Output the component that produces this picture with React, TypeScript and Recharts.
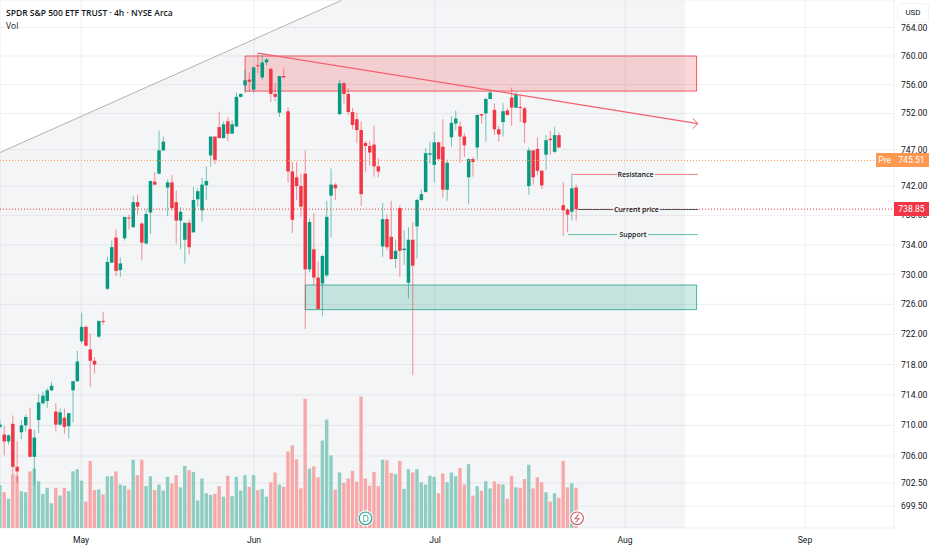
import {
  Area,
  Bar,
  CartesianGrid,
  ComposedChart,
  ReferenceArea,
  ReferenceDot,
  ReferenceLine,
  XAxis,
  YAxis,
} from "recharts";

const UP = "#089981";
const DOWN = "#f23645";
const FONT = "'Open Sans', sans-serif";
const AXIS_FONT = "Roboto, sans-serif";

const opens = [
  709.8, 708.8, 707.9, 710.2, 704.6, 709.1, 710.0, 709.5, 705.9, 710.7,
  712.9, 713.2, 714.6, 711.8, 710.1, 711.0, 709.9, 714.6, 715.8, 721.1,
  723.0, 720.0, 718.5, 721.7, 723.8, 728.1, 731.6, 735.0, 730.6, 734.9,
  737.7, 736.4, 739.8, 736.9, 734.2, 738.4, 742.6, 743.7, 746.9, 741.8,
  742.5, 739.8, 737.3, 734.7, 737.0, 735.7, 740.2, 738.7, 742.1, 746.2,
  748.8, 750.1, 748.6, 750.9, 749.2, 750.2, 754.3, 755.9, 756.7, 755.3,
  758.7, 757.0, 759.1, 758.2, 754.7, 752.1, 757.2, 752.3, 744.0, 743.2,
  742.0, 743.7, 730.7, 733.4, 729.6, 728.8, 729.9, 740.7, 742.2, 751.9,
  756.2, 754.7, 752.2, 751.2, 749.7, 747.9, 747.5, 747.7, 744.7, 733.8,
  737.5, 735.1, 732.1, 739.0, 733.3, 728.9, 734.7, 736.5, 740.1, 741.2,
  746.3, 744.9, 748.0, 747.4, 741.5, 748.7, 750.6, 750.2, 748.8, 743.2,
  745.7, 747.3, 751.9, 752.0, 754.0, 752.5, 749.8, 750.8, 752.4, 754.2,
  752.8, 752.9, 752.7, 742.0, 746.9, 747.1, 744.1, 746.3, 748.5, 746.7,
  749.0, 739.4, 738.8, 738.5, 741.8,
];

const closes = [
  710.1, 707.9, 708.7, 704.6, 704.0, 710.0, 711.1, 705.9, 708.4, 713.0,
  713.9, 714.6, 715.2, 710.1, 711.7, 709.8, 711.6, 715.8, 718.4, 723.0,
  720.5, 718.5, 718.0, 723.8, 723.7, 731.7, 733.7, 730.5, 731.5, 737.8,
  737.6, 739.8, 739.2, 734.3, 738.2, 742.7, 742.2, 746.9, 748.1, 742.5,
  739.0, 737.3, 738.5, 737.0, 733.7, 740.1, 741.3, 742.2, 742.7, 748.8,
  745.6, 748.6, 750.5, 749.2, 750.5, 754.3, 754.7, 756.6, 756.4, 758.4,
  758.6, 759.1, 759.5, 754.7, 754.3, 757.2, 757.0, 744.0, 737.4, 742.0,
  739.2, 730.7, 737.1, 729.6, 725.4, 732.5, 737.8, 742.2, 741.7, 756.2,
  754.7, 752.2, 750.4, 749.7, 740.9, 747.5, 746.6, 744.7, 744.0, 737.5,
  733.7, 732.1, 733.2, 733.2, 733.5, 734.7, 731.2, 740.1, 740.9, 746.5,
  746.5, 748.0, 745.7, 741.5, 745.2, 750.7, 751.3, 748.8, 747.6, 745.7,
  745.3, 751.8, 751.7, 754.0, 754.9, 749.8, 749.1, 752.3, 751.8, 752.8,
  754.7, 752.8, 750.7, 746.9, 743.2, 744.1, 742.1, 748.3, 748.3, 749.0,
  747.3, 738.7, 738.1, 741.7, 738.85,
];

const highs = [
  710.6, 709.9, 708.8, 711.3, 707.9, 710.7, 711.4, 712.3, 709.4, 714.1,
  714.4, 714.9, 715.7, 712.9, 712.2, 712.2, 711.6, 715.8, 719.8, 724.9,
  723.2, 722.1, 719.0, 723.8, 725.0, 732.4, 734.6, 736.1, 732.3, 737.8,
  738.1, 740.6, 740.8, 737.1, 738.8, 742.7, 743.9, 749.6, 748.8, 742.9,
  743.5, 741.4, 739.1, 737.0, 737.5, 741.9, 741.7, 743.1, 744.7, 748.8,
  748.8, 752.2, 750.9, 751.5, 751.0, 754.9, 754.8, 758.1, 757.7, 758.5,
  760.4, 760.4, 759.7, 758.3, 756.2, 757.2, 758.4, 752.9, 745.3, 745.3,
  743.7, 746.9, 737.6, 738.3, 731.8, 732.7, 740.0, 744.4, 742.4, 756.7,
  756.4, 755.5, 752.8, 752.1, 750.9, 748.2, 748.2, 750.3, 745.8, 739.7,
  738.1, 740.0, 734.7, 739.4, 736.0, 736.4, 737.1, 740.3, 741.6, 747.2,
  748.1, 749.4, 748.1, 751.2, 745.6, 751.6, 752.4, 750.9, 749.3, 745.8,
  746.0, 751.8, 751.9, 754.2, 755.3, 753.4, 750.3, 753.4, 752.7, 755.6,
  755.0, 754.5, 752.9, 747.3, 746.9, 748.7, 744.2, 749.0, 749.6, 750.1,
  749.4, 742.5, 738.9, 743.7, 742.2,
];

const lows = [
  709.6, 706.1, 707.5, 703.7, 702.5, 708.2, 709.2, 705.8, 702.2, 709.0,
  712.7, 712.3, 714.5, 709.2, 710.0, 708.9, 708.3, 710.4, 715.7, 720.8,
  720.4, 715.0, 716.8, 721.5, 723.3, 727.9, 731.6, 729.8, 729.7, 734.6,
  736.1, 736.3, 738.1, 731.9, 734.1, 735.5, 742.1, 743.6, 746.9, 737.9,
  738.7, 734.2, 733.4, 731.5, 732.7, 735.7, 739.2, 737.2, 740.1, 744.7,
  745.0, 748.5, 748.5, 748.2, 749.2, 750.1, 754.2, 754.8, 755.0, 754.8,
  757.6, 756.7, 758.7, 753.6, 753.7, 751.5, 757.0, 742.5, 735.6, 740.1,
  737.8, 722.7, 730.3, 728.6, 725.3, 724.4, 729.6, 735.0, 740.1, 751.8,
  753.4, 751.8, 749.8, 747.9, 739.3, 744.0, 744.8, 743.3, 743.2, 732.4,
  733.3, 732.0, 730.9, 729.7, 731.3, 726.8, 716.6, 732.2, 740.0, 741.1,
  745.1, 742.5, 745.6, 740.4, 740.0, 747.4, 749.7, 745.2, 746.0, 739.5,
  743.3, 745.6, 750.6, 748.1, 754.0, 749.0, 748.1, 748.8, 751.7, 750.3,
  752.7, 750.8, 747.9, 740.8, 742.2, 743.5, 741.6, 744.2, 746.3, 746.5,
  747.2, 735.2, 735.7, 737.3, 737.3,
];

// millions of shares
const volumes = [
  7.8, 6.5, 5.3, 9.8, 9.5, 6.7, 6.5, 10.3, 10.8, 8.5,
  6.2, 7.3, 4.5, 7.3, 5.9, 7.3, 6.7, 10.3, 10.7, 8.6,
  4.8, 12.2, 6.9, 7.0, 6.1, 9.4, 9.4, 10.3, 7.9, 7.7,
  7.0, 12.4, 9.6, 12.4, 7.6, 9.4, 6.9, 7.9, 6.8, 9.3,
  8.1, 9.6, 7.4, 11.3, 10.5, 10.2, 5.0, 9.0, 6.3, 6.0,
  6.2, 7.6, 5.7, 9.5, 5.8, 9.3, 6.8, 9.6, 7.5, 9.6,
  6.9, 7.1, 5.7, 8.3, 10.1, 7.9, 7.5, 13.9, 15.0, 12.5,
  7.2, 23.5, 10.8, 11.2, 9.2, 15.9, 19.7, 13.2, 7.0, 10.1,
  8.2, 9.0, 10.4, 8.4, 23.9, 9.0, 7.7, 10.2, 7.6, 12.4,
  12.3, 10.0, 9.8, 12.2, 7.1, 10.7, 10.1, 10.7, 8.3, 7.9,
  9.5, 9.3, 6.3, 9.9, 8.3, 10.1, 9.4, 10.9, 7.9, 11.6,
  5.9, 7.6, 6.8, 8.5, 7.2, 8.5, 8.0, 7.9, 5.3, 9.5,
  7.4, 7.3, 8.9, 11.5, 7.2, 9.2, 8.3, 6.5, 4.8, 6.3,
  5.5, 12.2, 7.4, 8.1, 7.3,
];

const priceTicks = [764, 760, 756, 752, 747, 742, 738, 734, 730, 726, 722, 718, 714, 710, 706, 702.5, 699.5];
const monthTicks = [18.84, 59.07, 101.16, 145.35, 187.2];
const monthLabels = ["May", "Jun", "Jul", "Aug", "Sep"];

// top edge of the grey backdrop, follows the long diagonal
const backdropEdge = [
  { i: 0, top: 746.6 },
  { i: 79.3, top: 767.8 },
  { i: 159.3, top: 767.8 },
];

const rows = opens.map((open, i) => ({
  i,
  open,
  close: closes[i],
  high: highs[i],
  low: lows[i],
  up: closes[i] >= open,
  wick: [lows[i], highs[i]],
  vol: volumes[i],
}));

const X_DOMAIN: [number, number] = [0, 207.9];
const PRICE_DOMAIN: [number, number] = [696.7, 767.88];

// the bar spans low..high on a log axis, so the body is placed by log ratio inside it
function Candle(props: any) {
  const { x, y, width, height, payload } = props;
  const color = payload.up ? UP : DOWN;
  const span = Math.log(payload.high / payload.low);
  const top = Math.max(payload.open, payload.close);
  const bottom = Math.min(payload.open, payload.close);
  const bodyY = y + (height * Math.log(payload.high / top)) / span;
  const bodyH = Math.max((height * Math.log(top / bottom)) / span, 1);
  const mid = x + width / 2;
  return (
    <g>
      <rect x={mid - 0.5} y={y} width={1} height={height} fill={color} fillOpacity={0.55} />
      <rect x={mid - 1.75} y={bodyY} width={3.5} height={bodyH} fill={color} />
    </g>
  );
}

function VolumeBar(props: any) {
  const mid = props.x + props.width / 2;
  return (
    <rect
      x={mid - 1.7}
      y={props.y}
      width={3.4}
      height={props.height}
      fill={props.payload.up ? "#8dcdc2" : "#f7a9a9"}
    />
  );
}

function EventBadge({ cx, cy, color, children }: any) {
  return (
    <g>
      <circle cx={cx} cy={cy} r={7.5} fill="#fff" stroke="#fff" />
      <circle cx={cx} cy={cy} r={6.3} fill="#fff" stroke={color} strokeWidth={1.2} />
      {children}
    </g>
  );
}

function Segment({ from, to, color, width = 1, dash }: any) {
  return (
    <ReferenceLine
      xAxisId="x"
      yAxisId="price"
      segment={[
        { x: from[0], y: from[1] },
        { x: to[0], y: to[1] },
      ]}
      stroke={color}
      strokeWidth={width}
      strokeDasharray={dash}
    />
  );
}

function noteLabel(i: number, y: number, text: string) {
  return (
    <ReferenceDot
      xAxisId="x"
      yAxisId="price"
      x={i}
      y={y}
      r={0}
      fill="none"
      stroke="none"
      label={{ value: text, position: "center", fontSize: 7, fontFamily: FONT, fontWeight: 600, fill: "#131722" }}
    />
  );
}

function Tag({ left, top, width, color, text }: any) {
  return (
    <div
      style={{
        position: "absolute",
        left,
        top,
        width,
        height: 14,
        background: color,
        color: "#fff",
        fontFamily: AXIS_FONT,
        fontSize: 8.6,
        lineHeight: "14px",
        textAlign: "center",
      }}
    >
      {text}
    </div>
  );
}

export default function App() {
  return (
    <div style={{ position: "absolute", left: 0, top: 0, width: 932, height: 550, background: "#fff", overflow: "hidden" }}>
      <ComposedChart
        width={932}
        height={550}
        data={rows}
        margin={{ top: 0, right: 0, bottom: 0, left: 0 }}
      >
        <XAxis
          xAxisId="x"
          dataKey="i"
          type="number"
          domain={X_DOMAIN}
          ticks={monthTicks}
          interval={0}
          tickFormatter={(v) => monthLabels[monthTicks.indexOf(v)]}
          tick={{ fontSize: 8.6, fontFamily: AXIS_FONT, fill: "#131722" }}
          tickLine={false}
          axisLine={false}
          height={22}
          tickMargin={3}
        />
        <XAxis xAxisId="vol" dataKey="i" type="number" domain={X_DOMAIN} height={0} hide />
        <YAxis
          yAxisId="price"
          orientation="right"
          type="number"
          scale="log"
          domain={PRICE_DOMAIN}
          allowDataOverflow
          ticks={priceTicks}
          interval={0}
          tickFormatter={(v) => v.toFixed(2)}
          tick={{ fontSize: 8.6, fontFamily: AXIS_FONT, fill: "#131722" }}
          tickLine={false}
          axisLine={false}
          width={38}
          tickMargin={1}
        />
        <YAxis yAxisId="volume" type="number" domain={[0, 96]} hide />
        <CartesianGrid xAxisId="x" yAxisId="price" stroke="#efeff2" strokeWidth={1} />
        <Area
          xAxisId="x"
          yAxisId="price"
          data={backdropEdge}
          dataKey="top"
          type="linear"
          stroke="none"
          fill="#787b86"
          fillOpacity={0.08}
          dot={false}
          activeDot={false}
          isAnimationActive={false}
        />

        <Bar xAxisId="vol" yAxisId="volume" dataKey="vol" barSize={4} shape={VolumeBar} isAnimationActive={false} />

        <ReferenceArea
          xAxisId="x"
          yAxisId="price"
          x1={57}
          x2={162}
          y1={760}
          y2={755.1}
          fill={DOWN}
          fillOpacity={0.2}
          stroke={DOWN}
          strokeOpacity={0.8}
        />
        <ReferenceArea
          xAxisId="x"
          yAxisId="price"
          x1={71}
          x2={162}
          y1={728.6}
          y2={725.3}
          fill={UP}
          fillOpacity={0.2}
          stroke={UP}
          strokeOpacity={0.7}
        />

        <Bar xAxisId="x" yAxisId="price" dataKey="wick" barSize={4} shape={Candle} isAnimationActive={false} />

        {Segment({ from: [0, 746.6], to: [79.3, 767.8], color: "#b8b0b0" })}
        {Segment({ from: [60, 760.4], to: [162.3, 750.6], color: "#f4606c", width: 1.2 })}
        {Segment({ from: [161.1, 751.3], to: [162.3, 750.6], color: "#f4606c" })}
        {Segment({ from: [161.1, 749.9], to: [162.3, 750.6], color: "#f4606c" })}

        {Segment({ from: [0, 745.51], to: [203.7, 745.51], color: "#ff9850", dash: "1 2" })}
        {Segment({ from: [0, 738.85], to: [207.9, 738.85], color: DOWN, dash: "1 2" })}

        {Segment({ from: [133.2, 743.6], to: [143.5, 743.6], color: "#f77c80" })}
        {Segment({ from: [152.3, 743.6], to: [162.3, 743.6], color: "#f77c80" })}
        {noteLabel(147.8, 743.6, "Resistance")}

        {Segment({ from: [134.4, 738.8], to: [142.6, 738.8], color: "#555" })}
        {Segment({ from: [153.5, 738.8], to: [162.3, 738.8], color: "#555" })}
        {noteLabel(148, 738.8, "Current price")}

        {Segment({ from: [132.1, 735.4], to: [143.6, 735.4], color: "#5dbfae" })}
        {Segment({ from: [150.7, 735.4], to: [162.3, 735.4], color: "#5dbfae" })}
        {noteLabel(147.2, 735.4, "Support")}

        <ReferenceDot
          xAxisId="x"
          yAxisId="volume"
          x={85}
          y={1.76}
          shape={(p: any) => (
            <EventBadge cx={p.cx} cy={p.cy} color="#2aa794">
              <text x={p.cx} y={p.cy + 3.3} textAnchor="middle" fontSize={9} fontFamily={FONT} fill="#2aa794">
                D
              </text>
            </EventBadge>
          )}
        />
        <ReferenceDot
          xAxisId="x"
          yAxisId="volume"
          x={134.2}
          y={1.76}
          shape={(p: any) => (
            <EventBadge cx={p.cx} cy={p.cy} color="#c9636f">
              <path
                d={`M${p.cx + 1.5} ${p.cy - 4}L${p.cx - 2} ${p.cy + 0.5}H${p.cx + 2}L${p.cx - 1.5} ${p.cy + 4}`}
                fill="none"
                stroke="#c9636f"
                strokeWidth={1.1}
              />
            </EventBadge>
          )}
        />
      </ComposedChart>

      <Tag left={876} top={153} width={17.5} color="#ff9850" text="Pre" />
      <Tag left={894} top={153} width={35} color="#ff9850" text="745.51" />
      <Tag left={894} top={202} width={35} color={DOWN} text="738.85" />

      <div style={{ position: "absolute", left: 6, top: 7, fontFamily: FONT, fontSize: 8.5, fontWeight: 600, color: "#131722", whiteSpace: "nowrap" }}>
        SPDR S&amp;P 500 ETF TRUST · 4h · NYSE Arca
      </div>
      <div style={{ position: "absolute", left: 6, top: 20, fontFamily: FONT, fontSize: 8.5, color: "#131722" }}>Vol</div>
      <div
        style={{
          position: "absolute",
          left: 897,
          top: 3,
          width: 32,
          height: 20,
          boxSizing: "border-box",
          border: "1px solid #f0f3fa",
          borderRadius: 4,
          background: "#fff",
          fontFamily: AXIS_FONT,
          fontSize: 8,
          lineHeight: "18px",
          textAlign: "center",
          color: "#131722",
        }}
      >
        USD
      </div>
    </div>
  );
}
